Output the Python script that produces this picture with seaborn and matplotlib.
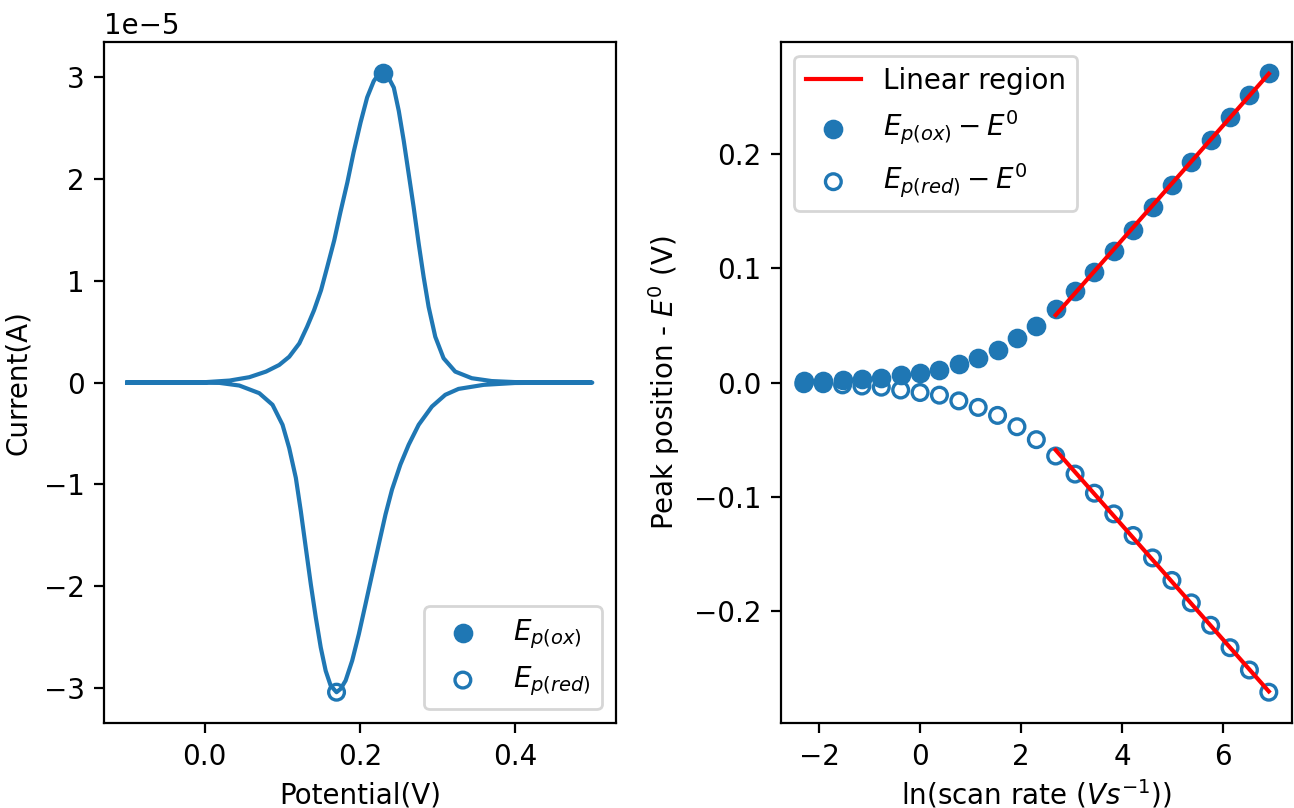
import matplotlib
matplotlib.use("Agg")
import matplotlib.pyplot as plt
import seaborn as sns

# --- left panel: cyclic voltammogram (current in units of 1e-5 A) ---
# forward (oxidation) scan
pot_fwd = [-0.100, -0.050, 0.000, 0.032, 0.0575, 0.079, 0.096, 0.109, 0.122, 0.132,
           0.141, 0.150, 0.158, 0.167, 0.175, 0.184, 0.192, 0.201, 0.2095, 0.218,
           0.2235, 0.230, 0.236, 0.2439, 0.2503, 0.2567, 0.2631, 0.2695, 0.276, 0.2824,
           0.2888, 0.2974, 0.3081, 0.3231, 0.3445, 0.3702, 0.400, 0.450, 0.500]
cur_fwd = [0.000, 0.001, 0.004, 0.020, 0.053, 0.108, 0.173, 0.254, 0.385, 0.548,
           0.711, 0.907, 1.135, 1.396, 1.673, 1.967, 2.260, 2.554, 2.800, 2.960,
           3.020, 3.040, 3.010, 2.896, 2.668, 2.375, 2.049, 1.722, 1.364, 1.037,
           0.744, 0.450, 0.239, 0.108, 0.043, 0.015, 0.005, 0.001, 0.000]
# reverse (reduction) scan
pot_rev = [0.500, 0.450, 0.400, 0.360, 0.3274, 0.3103, 0.2931, 0.276, 0.2631, 0.2524,
           0.2416, 0.2332, 0.2245, 0.2159, 0.2074, 0.1988, 0.1902, 0.1817, 0.1753, 0.170,
           0.1624, 0.156, 0.1496, 0.1432, 0.1368, 0.1303, 0.1239, 0.1175, 0.1089, 0.1003,
           0.0874, 0.0703, 0.0446, 0.019, -0.030, -0.100]
cur_rev = [0.000, -0.001, -0.004, -0.022, -0.062, -0.120, -0.235, -0.414, -0.610, -0.805,
           -1.050, -1.294, -1.588, -1.882, -2.175, -2.469, -2.730, -2.926, -3.007, -3.040,
           -2.975, -2.830, -2.600, -2.305, -1.980, -1.620, -1.262, -0.936, -0.642, -0.414,
           -0.218, -0.104, -0.029, -0.003, 0.000, 0.000]
peak_pot = [0.230, 0.170]
peak_cur = [3.04, -3.04]

# --- right panel: peak shift vs ln(scan rate) ---
ln_rate = [-2.303, -1.919, -1.535, -1.151, -0.768, -0.384, 0.000, 0.384, 0.768,
           1.151, 1.535, 1.919, 2.303, 2.686, 3.070, 3.454, 3.838, 4.221, 4.605,
           4.989, 5.373, 5.756, 6.140, 6.524, 6.908]
shift_ox = [0.001, 0.001, 0.002, 0.003, 0.004, 0.0065, 0.0087, 0.011, 0.016,
            0.0217, 0.0287, 0.0386, 0.0499, 0.0642, 0.080, 0.0967, 0.1148, 0.1337,
            0.1533, 0.173, 0.1926, 0.2122, 0.2318, 0.2513, 0.2707]
shift_red = [-0.001, -0.001, -0.002, -0.003, -0.004, -0.0065, -0.0087, -0.011, -0.016,
             -0.0217, -0.0287, -0.0386, -0.0499, -0.0642, -0.080, -0.0967, -0.1148, -0.1337,
             -0.1533, -0.173, -0.1926, -0.2122, -0.2318, -0.2513, -0.2707]
fit_x = [2.686, 6.908]
fit_ox = [0.059, 0.270]
fit_red = [-0.059, -0.270]

blue = "#1f77b4"

fig, (ax1, ax2) = plt.subplots(1, 2, figsize=(6.47, 4.04), dpi=200)
fig.subplots_adjust(left=0.0804, right=0.9985, top=0.948, bottom=0.105, wspace=0.3226)

# CV loop: forward then reverse scan, drawn in order
cv_pot = pot_fwd + pot_rev
cv_cur = [c * 1e-5 for c in cur_fwd + cur_rev]
sns.lineplot(x=cv_pot, y=cv_cur, sort=False, estimator=None, color=blue,
             linewidth=1.5, ax=ax1)
sns.scatterplot(x=peak_pot[:1], y=[peak_cur[0] * 1e-5], s=42, color=blue,
                edgecolor=blue, linewidth=0.6, label=r"$E_{p(ox)}$", ax=ax1, zorder=3)
sns.scatterplot(x=peak_pot[1:], y=[peak_cur[1] * 1e-5], s=32, facecolor="none",
                edgecolor=blue, linewidth=1.2, label=r"$E_{p(red)}$", ax=ax1, zorder=3)
ax1.set_xlabel("Potential(V)")
ax1.set_ylabel("Current(A)")
ax1.legend(loc="lower right")

# peak positions
sns.lineplot(x=fit_x, y=fit_ox, color="red", linewidth=1.5, label="Linear region", ax=ax2)
sns.lineplot(x=fit_x, y=fit_red, color="red", linewidth=1.5, ax=ax2)
sns.scatterplot(x=ln_rate, y=shift_ox, s=42, color=blue, edgecolor=blue,
                linewidth=0.6, label=r"$E_{p(ox)} - E^0$", ax=ax2)
sns.scatterplot(x=ln_rate, y=shift_red, s=32, facecolor="none", edgecolor=blue,
                linewidth=1.2, label=r"$E_{p(red)} - E^0$", ax=ax2)
ax2.set_xlabel(r"ln(scan rate ($Vs^{-1}$))", labelpad=2.5)
ax2.set_ylabel(r"Peak position - $E^0$ (V)")
ax2.legend(loc="upper left")

for ax in (ax1, ax2):
    ax.grid(False)

fig.savefig("out.png", dpi=200)
